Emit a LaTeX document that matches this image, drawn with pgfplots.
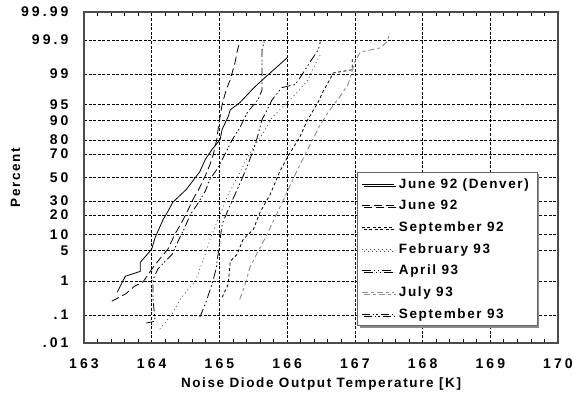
\documentclass[border=0pt]{standalone}
\usepackage{fontspec}
\setmainfont{Liberation Sans}
\newfontfamily\tickfont[LetterSpace=22]{Liberation Sans}
\newfontfamily\labfont[LetterSpace=12]{Liberation Sans}
\usepackage{pgfplots}
\pgfplotsset{compat=1.18}
\usetikzlibrary{shadows}
\begin{document}
\begin{tikzpicture}
\begin{axis}[
  scale only axis, width=474pt, height=331pt,
  xmin=163, xmax=170, ymin=-3.719, ymax=3.719,
  xtick={163,164,165,166,167,168,169,170},
  xticklabels={163,164,165,166,167,168,169,170},
  minor x tick num=4,
  ytick={-3.719,-3.090,-2.326,-1.645,-1.2816,-0.8416,-0.5244,0,0.5244,0.8416,1.2816,1.645,2.326,3.090,3.719},
  yticklabels={.01,.1,1,5,10,20,30,50,70,80,90,95,99,99.9,99.99},
  ytick pos=left,
  tick align=inside,
  major tick length=0pt,
  minor tick length=4pt,
  every tick/.style={black, line width=0.8pt},
  grid=major,
  major grid style={black, line width=0.6pt, dash pattern=on 3pt off 1.6pt},
  axis line style={line width=1.3pt, black!70},
  tick label style={font=\tickfont\bfseries\fontsize{14pt}{16pt}\selectfont},
  xticklabel style={yshift=-12pt},
  yticklabel style={xshift=-12pt},
  xlabel={Noise Diode Output Temperature [K]},
  ylabel={Percent},
  label style={font=\labfont\bfseries\fontsize{13.5pt}{16pt}\selectfont},
  xlabel style={yshift=-2pt},
  ylabel style={yshift=-6pt},
  legend cell align=left,
  legend image code/.code={\draw[#1] (0pt,0pt) -- (32pt,0pt);},
  legend style={at={(0.576,0.517)}, anchor=north west, draw=black!60, line width=1pt,
    fill=white, drop shadow={shadow xshift=2pt, shadow yshift=-2pt, fill=black!45, opacity=1},
    font=\labfont\bfseries\fontsize{13.5pt}{16pt}\selectfont,
    nodes={inner ysep=5.2pt, inner xsep=4.5pt}, inner xsep=4pt, inner ysep=1pt},
]
\coordinate (sw) at (rel axis cs:0,0);
\coordinate (ne) at (rel axis cs:1,1);
% June 92 (Denver)
\addplot[black, line width=0.8pt] coordinates {
(163.49,-2.58) (163.61,-2.22) (163.83,-2.11) (163.83,-1.91) (164.00,-1.61) (164.05,-1.35)
(164.17,-0.94) (164.24,-0.76) (164.31,-0.56) (164.42,-0.40) (164.51,-0.27) (164.60,-0.09)
(164.71,0.13) (164.79,0.40) (164.89,0.63) (165.01,0.85) (165.04,1.08) (165.13,1.37)
(165.16,1.52) (165.30,1.68) (165.48,1.97) (165.56,2.09) (165.75,2.35) (166.00,2.69)};
\addlegendentry{June 92 (Denver)}
% June 92
\addplot[black, line width=0.8pt, dash pattern=on 8pt off 4pt] coordinates {
(163.41,-2.78) (163.61,-2.62) (163.75,-2.44) (163.87,-2.35) (164.02,-2.02) (164.15,-1.77)
(164.24,-1.61) (164.34,-1.28) (164.45,-0.99) (164.54,-0.72) (164.61,-0.49) (164.71,-0.22)
(164.80,0.07) (164.86,0.29) (164.91,0.52) (164.96,0.85) (164.99,1.19) (165.04,1.64)
(165.10,1.97) (165.16,2.20) (165.23,2.58) (165.26,2.82) (165.30,3.05)};
\addlegendentry{June 92}
% September 92
\addplot[black, line width=0.8pt, dash pattern=on 3pt off 2.5pt] coordinates {
(165.04,-2.69) (165.13,-2.40) (165.16,-1.88) (165.26,-1.73) (165.35,-1.39) (165.50,-1.17)
(165.60,-0.78) (165.75,-0.38) (165.89,0.13) (166.01,0.47) (166.19,0.92) (166.29,1.26)
(166.46,1.70) (166.53,1.93) (166.63,2.20) (166.68,2.35) (166.96,2.42) (166.96,2.71)};
\addlegendentry{September 92}
% February 93
\addplot[black!70, line width=0.7pt, dash pattern=on 1pt off 3pt] coordinates {
(164.12,-3.41) (164.30,-3.07) (164.42,-2.74) (164.54,-2.51) (164.64,-2.35) (164.71,-2.06)
(164.79,-1.73) (164.86,-1.39) (164.95,-1.05) (165.04,-0.72) (165.13,-0.38) (165.25,-0.04)
(165.36,0.29) (165.48,0.63) (165.63,0.96) (165.78,1.35) (165.97,1.64) (166.16,1.93)
(166.31,2.20) (166.41,2.53) (166.49,2.76)};
\addlegendentry{February 93}
% April 93
\addplot[black, line width=0.8pt, dash pattern=on 9pt off 3pt on 1.5pt off 2.5pt on 1.5pt off 3pt] coordinates {
(164.71,-3.14) (164.79,-2.85) (164.83,-2.67) (164.89,-2.40) (164.95,-2.06) (164.98,-1.73)
(165.01,-1.39) (165.04,-1.05) (165.13,-0.72) (165.23,-0.38) (165.33,-0.04) (165.42,0.29)
(165.53,0.74) (165.63,1.30) (165.78,1.75) (165.92,2.02) (166.12,2.09) (166.22,2.31)
(166.34,2.60) (166.46,2.87) (166.49,3.05)};
\addlegendentry{April 93}
% July 93
\addplot[black!45, line width=0.9pt, dash pattern=on 6pt off 3pt on 3pt off 3pt] coordinates {
(165.30,-2.74) (165.38,-2.40) (165.45,-2.02) (165.57,-1.66) (165.69,-1.32) (165.82,-0.90)
(165.95,-0.49) (166.07,-0.09) (166.19,0.29) (166.34,0.74) (166.49,1.19) (166.63,1.52)
(166.78,1.82) (166.90,2.09) (167.00,2.60) (167.08,2.82) (167.37,2.91) (167.48,3.05) (167.51,3.25)};
\addlegendentry{July 93}
% September 93
\addplot[black, line width=0.8pt, dash pattern=on 8pt off 3pt on 1.5pt off 2pt on 1.5pt off 3pt] coordinates {
(163.92,-3.27) (164.05,-3.23) (164.02,-2.74) (164.02,-2.29) (164.09,-2.06) (164.20,-1.88)
(164.30,-1.73) (164.39,-1.43) (164.49,-1.12) (164.57,-0.83) (164.67,-0.61) (164.79,-0.31)
(164.86,-0.04) (164.98,0.22) (165.08,0.52) (165.19,0.85) (165.30,1.12) (165.42,1.48)
(165.57,1.75) (165.63,1.97) (165.63,2.42) (165.63,2.87) (165.66,3.05)};
\addlegendentry{September 93}
\end{axis}
\pgfresetboundingbox
\path[use as bounding box] ([shift={(-84pt,-51pt)}]sw) rectangle ([shift={(16pt,12pt)}]ne);
\end{tikzpicture}
\end{document}
